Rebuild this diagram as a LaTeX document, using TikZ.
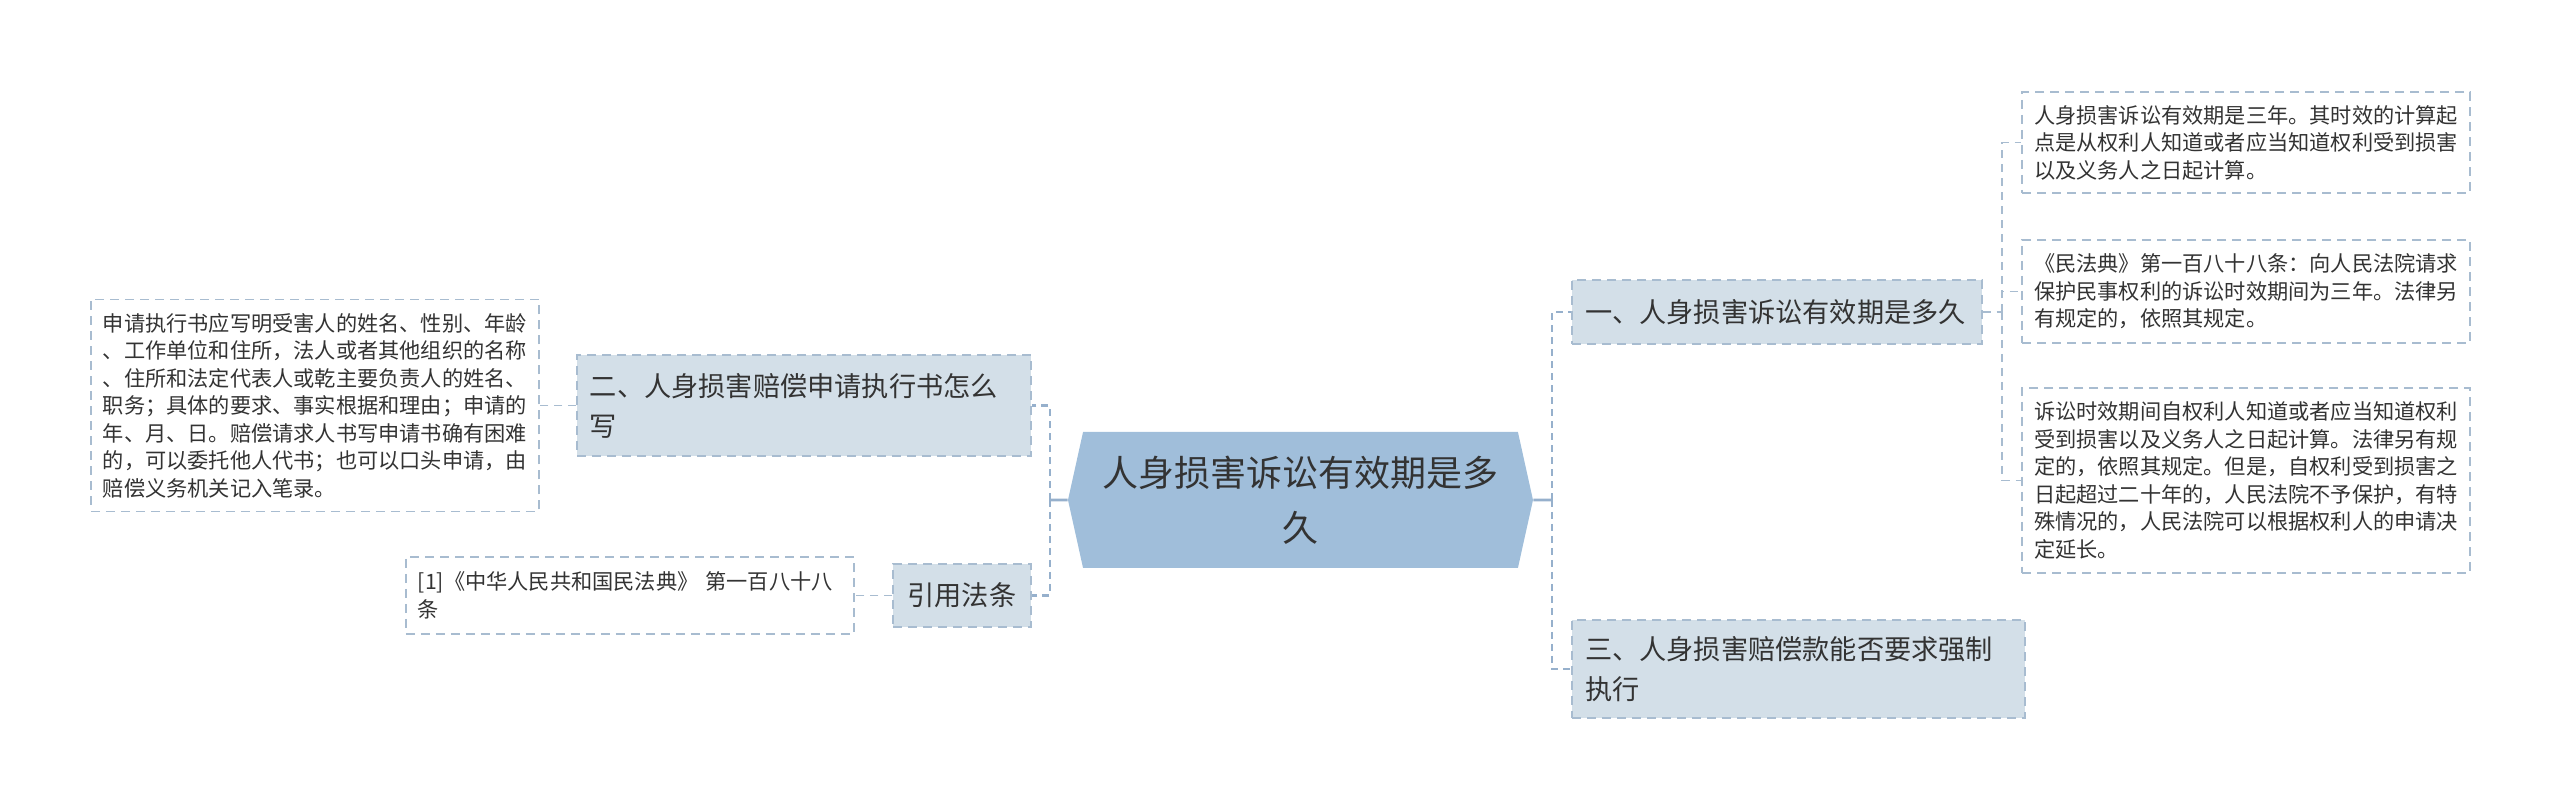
\documentclass[tikz,border=0pt]{standalone}
\usepackage{fontspec}
\setmainfont{Noto Sans CJK SC}
\usetikzlibrary{shapes.symbols}

\definecolor{rootblue}{RGB}{160,190,218}
\definecolor{topicfill}{RGB}{211,223,232}
\definecolor{trunkblue}{RGB}{150,176,204}
\definecolor{twigblue}{RGB}{168,188,208}
\definecolor{inkgray}{RGB}{51,51,51}

\begin{document}
\begin{tikzpicture}[node distance=100pt, rootnode/.style={signal, signal to=east and west, signal pointer angle=155, fill=rootblue, text=inkgray, minimum width=232.5pt, minimum height=68pt, inner sep=0pt, text width=205pt, align=center, font={\fontsize{18pt}{27.5pt}\selectfont}}, topic/.style={rectangle, draw=twigblue, fill=topicfill, line width=0.7pt, dash pattern=on 4.5pt off 3pt, text=inkgray, align=left, inner xsep=6.5pt, inner ysep=0pt, font={\fontsize{13.6pt}{20pt}\selectfont}}, leaf/.style={rectangle, draw=twigblue, fill=white, line width=0.7pt, dash pattern=on 4.5pt off 3pt, text=inkgray, align=left, text width=212pt, inner xsep=6pt, inner ysep=0pt, font={\fontsize{10.6pt}{13.75pt}\selectfont}}, trunk/.style={draw=trunkblue, line width=1.4pt, dash pattern=on 3.5pt off 2.5pt}, twig/.style={draw=twigblue, line width=0.7pt, dash pattern=on 4pt off 3pt}]
  \useasboundingbox (-650.25pt,-156pt) rectangle (629.75pt,250pt);

  \node[rootnode] (root) {人身损害诉讼有效期是多\\久};

  \node[coordinate, right of=root, node distance=125.75pt] (rjunc) {};
  \node[coordinate, above of=rjunc, node distance=94pt] (rup) {};
  \node[coordinate, below of=rjunc, node distance=84.5pt] (rdown) {};
  \node[topic, right of=rup, node distance=112.5pt, text width=192pt, minimum height=32pt] (term) {一、人身损害诉讼有效期是多久};
  \node[topic, right of=rdown, node distance=123.25pt, text width=213.5pt, minimum height=49pt] (enforce) {三、人身损害赔偿款能否要求强制\\执行};

  \node[coordinate, right of=term, node distance=112.5pt] (tjunc) {};
  \node[coordinate, above of=tjunc, node distance=84.75pt] (tup) {};
  \node[coordinate, above of=tjunc, node distance=10.25pt] (tmid) {};
  \node[coordinate, below of=tjunc, node distance=84.25pt] (tdown) {};
  \node[leaf, right of=tup, node distance=122pt, minimum height=50.5pt] (threeyears) {人身损害诉讼有效期是三年。其时效的计算起\\点是从权利人知道或者应当知道权利受到损害\\以及义务人之日起计算。};
  \node[leaf, right of=tmid, node distance=122pt, minimum height=51.5pt] (article) {《民法典》第一百八十八条：向人民法院请求\\保护民事权利的诉讼时效期间为三年。法律另\\有规定的，依照其规定。};
  \node[leaf, right of=tdown, node distance=122pt, minimum height=92.5pt] (twenty) {诉讼时效期间自权利人知道或者应当知道权利\\受到损害以及义务人之日起计算。法律另有规\\定的，依照其规定。但是，自权利受到损害之\\日起超过二十年的，人民法院不予保护，有特\\殊情况的，人民法院可以根据权利人的申请决\\定延长。};

  \node[coordinate, left of=root, node distance=125.25pt] (ljunc) {};
  \node[coordinate, above of=ljunc, node distance=47.25pt] (lup) {};
  \node[coordinate, below of=ljunc, node distance=47.75pt] (ldown) {};
  \node[topic, left of=lup, node distance=123pt, text width=214pt, minimum height=50.5pt] (apply) {二、人身损害赔偿申请执行书怎么\\写};
  \node[topic, left of=ldown, node distance=44pt, minimum width=69pt, minimum height=31.5pt] (cite) {引用法条};
  \node[leaf, left of=apply, node distance=244.5pt, minimum height=106pt] (content) {申请执行书应写明受害人的姓名、性别、年龄\\、工作单位和住所，法人或者其他组织的名称\\、住所和法定代表人或乾主要负责人的姓名、\\职务；具体的要求、事实根据和理由；申请的\\年、月、日。赔偿请求人书写申请书确有困难\\的，可以委托他人代书；也可以口头申请，由\\赔偿义务机关记入笔录。};
  \node[leaf, left of=cite, node distance=166pt, minimum height=38.5pt] (law) {[1]《中华人民共和国民法典》 第一百八十八\\条};

  \draw[trunk, solid] (root) -- (rjunc);
  \draw[trunk] (rjunc) |- (term);
  \draw[trunk] (rjunc) |- (enforce);
  \draw[trunk, solid] (root) -- (ljunc);
  \draw[trunk] (ljunc) |- (apply);
  \draw[trunk] (ljunc) |- (cite);

  \draw[twig] (term) -- (tjunc);
  \draw[twig] (tjunc) |- (threeyears);
  \draw[twig] (tjunc) |- (article);
  \draw[twig] (tjunc) |- (twenty);
  \draw[twig] (apply) -- (content);
  \draw[twig] (cite) -- (law);

\end{tikzpicture}
\end{document}
